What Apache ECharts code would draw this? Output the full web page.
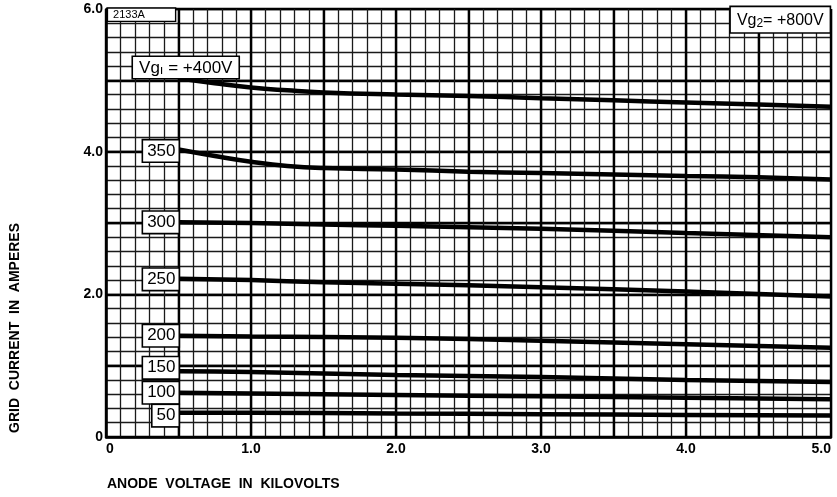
<!DOCTYPE html>
<html>
<head>
<meta charset="utf-8">
<script src="https://cdn.jsdelivr.net/npm/echarts@6/dist/echarts.min.js"></script>
<style>html,body{margin:0;padding:0;background:#fff;}#c{width:837px;height:497px;}</style>
</head>
<body>
<div id="c"></div>
<script>
// ---- data (anode voltage kV, grid current A) ----
var xTicks = [0, 1.0, 2.0, 3.0, 4.0, 5.0];
var yTicks = [0, 2.0, 4.0, 6.0];
var vg1_400 = [[0.5,5.03],[0.75,4.96],[1.0,4.90],[1.25,4.86],[1.5,4.83],[2.0,4.80],[2.5,4.78],[3.0,4.75],[3.5,4.72],[4.0,4.69],[4.5,4.66],[5.0,4.63]];
var vg1_350 = [[0.5,4.03],[0.75,3.94],[1.0,3.86],[1.25,3.80],[1.5,3.77],[2.0,3.75],[2.5,3.72],[3.0,3.70],[3.5,3.68],[4.0,3.66],[4.5,3.64],[5.0,3.61]];
var vg1_300 = [[0.5,3.01],[1.0,3.00],[1.5,2.98],[2.0,2.96],[3.0,2.92],[4.0,2.86],[5.0,2.80]];
var vg1_250 = [[0.5,2.22],[1.0,2.20],[1.5,2.17],[2.0,2.15],[3.0,2.10],[4.0,2.04],[5.0,1.97]];
var vg1_200 = [[0.5,1.42],[1.0,1.41],[2.0,1.39],[3.0,1.35],[4.0,1.30],[5.0,1.25]];
var vg1_150 = [[0.5,0.92],[1.0,0.91],[2.0,0.87],[3.0,0.84],[4.0,0.80],[5.0,0.77]];
var vg1_100 = [[0.5,0.62],[1.0,0.61],[2.0,0.59],[3.0,0.57],[4.0,0.55],[5.0,0.53]];
var vg1_50  = [[0.5,0.34],[1.0,0.34],[2.0,0.33],[3.0,0.32],[4.0,0.31],[5.0,0.30]];
var curveNames = ['400','350','300','250','200','150','100','50'];
var curves = [vg1_400, vg1_350, vg1_300, vg1_250, vg1_200, vg1_150, vg1_100, vg1_50];
// label anchor points [x, y, text]
var curveLabels = [[0.5,4.01,'350'],[0.5,3.01,'300'],[0.5,2.21,'250'],[0.5,1.42,'200'],[0.5,0.97,'150'],[0.5,0.62,'100'],[0.5,0.30,'50']];
var vg1Label = [[0.55,5.18]];
var vg2Label = [[4.65,5.85]];
var typeLabel = [[0.245,5.92]];

var FONT = '"Liberation Sans", Arial, sans-serif';
var chart = echarts.init(document.getElementById('c'), null, {renderer:'canvas'});

function fmt(v){ return v === 0 ? '0' : v.toFixed(1); }
var gridPos = {left:106, right:6, top:9, bottom:60};

var series = [];
curves.forEach(function(d, i){
  series.push({
    type:'line', name:curveNames[i], data:d, xAxisIndex:0, yAxisIndex:0,
    smooth:0.5, symbol:'none', lineStyle:{color:'#000', width:4.5}, z:5
  });
});
var boxStyle = {color:'#000', fontFamily:FONT, fontSize:17, backgroundColor:'#fff',
  borderColor:'#000', borderWidth:1.6, padding:[3,3,1,4]};
var opaque = {itemStyle:{opacity:1}};
series.push(Object.assign({
  type:'scatter', data:curveLabels, symbolSize:0, z:10, xAxisIndex:0, yAxisIndex:0,
  label:Object.assign({show:true, position:'left', distance:0,
    formatter:function(p){return p.data[2];}}, boxStyle)
}, opaque));
series.push(Object.assign({
  type:'scatter', data:vg1Label, symbolSize:0, z:10, xAxisIndex:0, yAxisIndex:0,
  label:{show:true, position:'inside', backgroundColor:'#fff', borderColor:'#000', borderWidth:1.6,
    padding:[3,6,1,6],
    formatter:'{a|Vg}{s|ı}{a| = +400V}',
    rich:{a:{fontFamily:FONT, fontSize:17, color:'#000'}, s:{fontFamily:FONT, fontSize:13, color:'#000', padding:[4,0,0,0]}}}
}, opaque));
series.push(Object.assign({
  type:'scatter', data:vg2Label, symbolSize:0, z:10, xAxisIndex:0, yAxisIndex:0,
  label:{show:true, position:'inside', backgroundColor:'#fff', borderColor:'#000', borderWidth:1.6,
    padding:[5,6,3,6],
    formatter:'{a|Vg}{s|2}{a|= +800V}',
    rich:{a:{fontFamily:FONT, fontSize:16, color:'#000'}, s:{fontFamily:FONT, fontSize:12, color:'#000', padding:[5,0,0,0]}}}
}, opaque));
series.push(Object.assign({
  type:'scatter', data:typeLabel, symbolSize:0, z:10, xAxisIndex:0, yAxisIndex:0,
  label:{show:true, position:'inside', backgroundColor:'#fff', borderColor:'#000', borderWidth:1.4,
    padding:[1,30,0,5], formatter:'2133A', fontFamily:FONT, fontSize:11, color:'#000'}
}, opaque));

var hidden = {axisLabel:{show:false}, axisTick:{show:false}, axisLine:{show:false}};
var option = {
  animation:false,
  backgroundColor:'#fff',
  grid:gridPos,
  xAxis:[
    Object.assign({type:'value', min:0, max:5, interval:0.1,
      splitLine:{show:true, lineStyle:{color:'#1a1a1a', width:1.3}}}, hidden),
    Object.assign({type:'value', min:0, max:5, interval:0.5,
      splitLine:{show:true, lineStyle:{color:'#000', width:2.4}}}, hidden),
    {type:'value', min:0, max:5, interval:1, position:'bottom',
      splitLine:{show:false}, axisTick:{show:false},
      axisLine:{show:true, lineStyle:{color:'#000', width:2.5}},
      axisLabel:{show:true, formatter:function(v){return fmt(v);}, fontFamily:FONT, fontSize:14, fontWeight:'bold', color:'#000', margin:5,
        alignMinLabel:'left', alignMaxLabel:'right',
        customValues:xTicks}}
  ],
  yAxis:[
    Object.assign({type:'value', min:0, max:6, interval:0.2,
      splitLine:{show:true, lineStyle:{color:'#1a1a1a', width:1.3}}}, hidden),
    Object.assign({type:'value', min:0, max:6, interval:1,
      splitLine:{show:true, lineStyle:{color:'#000', width:2.4}}}, hidden),
    {type:'value', min:0, max:6, interval:2, position:'left',
      splitLine:{show:false}, axisTick:{show:false},
      axisLine:{show:true, lineStyle:{color:'#000', width:2.5}},
      axisLabel:{show:true, formatter:function(v){return fmt(v);}, fontFamily:FONT, fontSize:14, fontWeight:'bold', color:'#000', margin:3,
        customValues:yTicks}}
  ],
  series:series,
  graphic:[
    {type:'text', left:107, top:477, style:{text:'ANODE  VOLTAGE  IN  KILOVOLTS', fontFamily:FONT, fontSize:14, fontWeight:'bold', fill:'#000'}},
    {type:'text', x:15, y:328, rotation:Math.PI/2, style:{text:'GRID  CURRENT  IN  AMPERES', fontFamily:FONT, fontSize:14, fontWeight:'bold', fill:'#000', align:'center', verticalAlign:'middle'}}
  ]
};
chart.setOption(option);
</script>
</body>
</html>
